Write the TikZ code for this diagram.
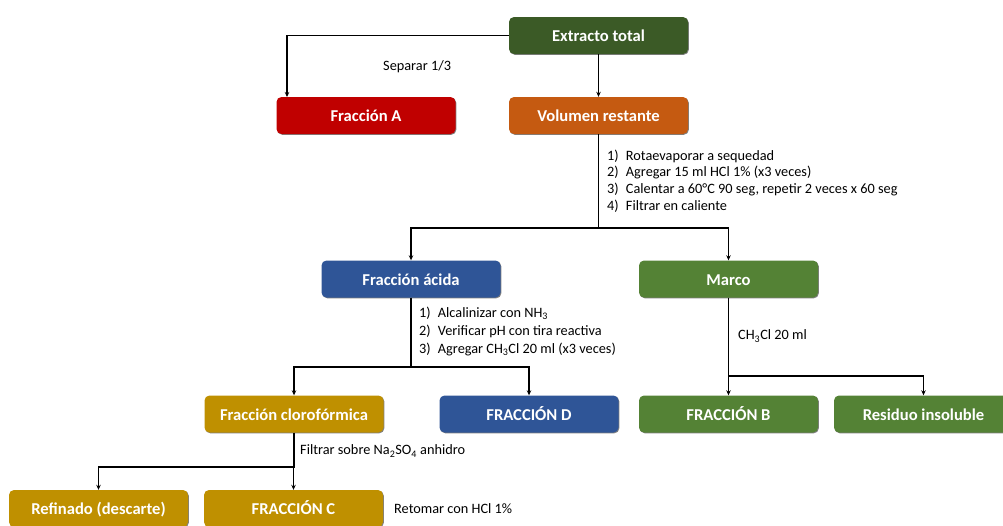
\documentclass[tikz,border=0pt]{standalone}
\usepackage{fontspec}
\setmainfont{Carlito}
\usetikzlibrary{arrows.meta,shadows,calc}
\definecolor{cdkgreen}{HTML}{3B5A26}
\definecolor{cred}{HTML}{C00000}
\definecolor{corange}{HTML}{C55A11}
\definecolor{cblue}{HTML}{2F5597}
\definecolor{cgreen}{HTML}{548235}
\definecolor{cgold}{HTML}{BF9000}
\tikzset{
  box/.style={rounded corners=5pt, minimum width=179pt, minimum height=37pt,
    inner sep=0pt, text height=13pt, text depth=1pt, text=white,
    font=\fontsize{16.6}{19}\selectfont\bfseries,
    general shadow={shadow xshift=0.8pt, shadow yshift=-0.8pt, fill=black, opacity=0.5}},
  note/.style={anchor=west, align=left, inner sep=0pt, font=\fontsize{14.3}{16.7}\selectfont},
  conn/.style={line width=1.6pt, black},
  arr/.style={conn, -{Stealth[length=5pt,width=4.5pt]}}
}
\begin{document}
\begin{tikzpicture}[x=1pt,y=-1pt]
\useasboundingbox (0,0) rectangle (1003,525);
\node[box, fill=cdkgreen] (ext) at (598.5,35.5) {Extracto total};
\node[box, fill=cred] (fa) at (366,115.5) {Fracción A};
\node[box, fill=corange] (vr) at (598.5,115.5) {Volumen restante};
\node[box, fill=cblue] (fac) at (411,279) {Fracción ácida};
\node[box, fill=cgreen] (marco) at (728.5,279) {Marco};
\node[box, fill=cgold] (fclo) at (294,414) {Fracción clorofórmica};
\node[box, fill=cblue] (fd) at (529,414) {FRACCIÓN D};
\node[box, fill=cgreen] (fb) at (728.5,414) {FRACCIÓN B};
\node[box, fill=cgreen] (res) at (923.5,414) {Residuo insoluble};
\node[box, fill=cgold] (ref) at (98.5,508.5) {Refinado (descarte)};
\node[box, fill=cgold] (fc) at (293.5,508.5) {FRACCIÓN C};

\coordinate (fatop) at (287,97);
\coordinate (j1) at (598.5,228);
\coordinate (j2) at (411,367);
\coordinate (j3) at (728.5,376);
\coordinate (j4) at (294,467);

\draw[arr] (ext.west) -| (fatop);
\draw[arr] (ext.south) -- (vr.north);
\draw[conn] (vr.south) -- (j1);
\draw[arr] (j1) -| (fac.north);
\draw[arr] (j1) -| (marco.north);
\draw[conn] (fac.south) -- (j2);
\draw[arr] (j2) -| (fclo.north);
\draw[arr] (j2) -| (fd.north);
\draw[conn] (marco.south) -- (j3);
\draw[arr] (j3) -| (fb.north);
\draw[arr] (j3) -| (res.north);
\draw[conn] (fclo.south) -- (j4);
\draw[arr] (j4) -| (ref.north);
\draw[arr] (j4) -| (fc.north);

\node[note] (n1) at (383,67) {Separar 1/3};
\node[note] (n2) at (607,181) {1)\enspace Rotaevaporar a sequedad\\2)\enspace Agregar 15 ml HCl 1\% (x3 veces)\\3)\enspace Calentar a 60°C 90 seg, repetir 2 veces x 60 seg\\4)\enspace Filtrar en caliente};
\node[note, font=\fontsize{14.3}{18}\selectfont] (n3) at (419,331) {1)\enspace Alcalinizar con NH\textsubscript{3}\\2)\enspace Verificar pH con tira reactiva\\3)\enspace Agregar CH\textsubscript{3}Cl 20 ml (x3 veces)};
\node[note] (n4) at (738,336) {CH\textsubscript{3}Cl 20 ml};
\node[note] (n5) at (300,451) {Filtrar sobre Na\textsubscript{2}SO\textsubscript{4} anhidro};
\node[note] (n6) at (394,509) {Retomar con HCl 1\%};
\end{tikzpicture}
\end{document}
